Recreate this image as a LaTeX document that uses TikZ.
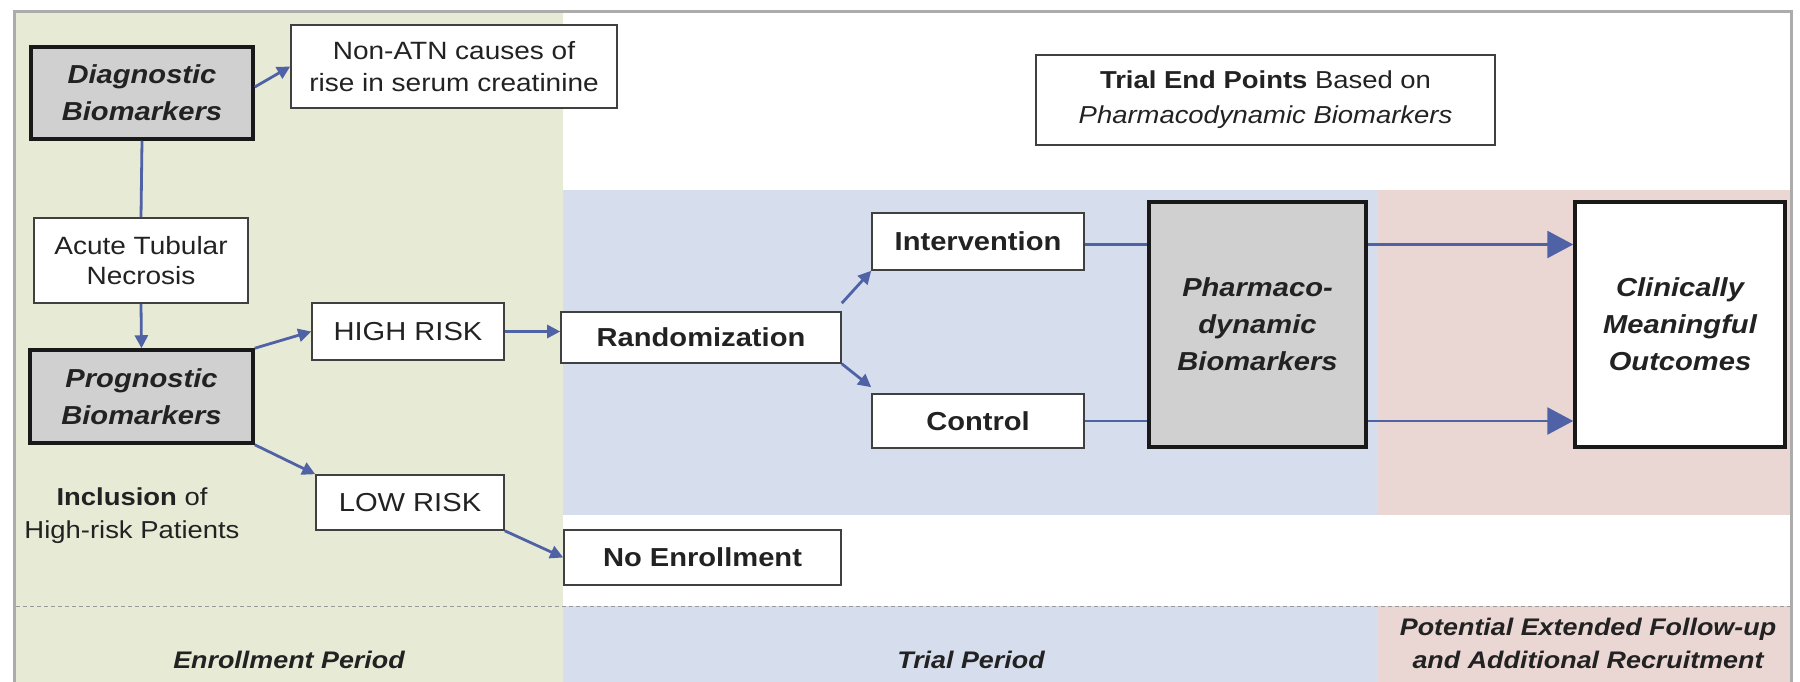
\documentclass[tikz,border=0pt]{standalone}
\usepackage{fontspec}
\setmainfont{Liberation Sans}[FakeStretch=1.12]
\usetikzlibrary{arrows.meta}
\definecolor{engreen}{HTML}{E7EBD6}
\definecolor{trblue}{HTML}{D6DDED}
\definecolor{fupink}{HTML}{EAD7D3}
\definecolor{boxgray}{HTML}{D0D0D0}
\definecolor{arrowblue}{HTML}{5062A6}
\definecolor{txt}{HTML}{222222}
\begin{document}
\begin{tikzpicture}[x=1pt,y=-1pt,
  box/.style={draw=black!75, line width=1.6pt, fill=white, align=center, inner sep=0pt, text=txt,
    font=\fontsize{26}{31}\selectfont},
  bio/.style={box, fill=boxgray, draw=black!90, line width=3.5pt, font=\fontsize{26}{37}\selectfont\bfseries\itshape},
  conn/.style={draw=arrowblue, line width=2.8pt},
  arr/.style={conn, -{Triangle[length=13pt,width=13pt]}},
  bigarr/.style={conn, -{Triangle[length=26pt,width=27pt]}},
  lbl/.style={align=center, inner sep=0pt, text=txt, font=\fontsize{24}{33}\selectfont\bfseries\itshape}
]
\useasboundingbox (0,0) rectangle (1800,682);
% background regions
\fill[white] (0,0) rectangle (1800,682);
\fill[engreen] (16,13) rectangle (563,682);
\fill[trblue] (563,190) rectangle (1378,515);
\fill[trblue] (563,606) rectangle (1378,682);
\fill[fupink] (1378,190) rectangle (1790,515);
\fill[fupink] (1378,606) rectangle (1790,682);
\draw[gray!80, line width=1pt, dash pattern=on 4pt off 3pt] (16,606) -- (1790,606);
\draw[gray!65, line width=3pt] (14,682) -- (14,12) -- (1791,12) -- (1791,682);

% nodes
\node[bio, minimum width=222pt, minimum height=92pt] (diag) at (142,93) {Diagnostic\\Biomarkers};
\node[box, minimum width=326pt, minimum height=83pt, font=\fontsize{25}{32}\selectfont] (nonatn) at (454,66.5) {Non-ATN causes of\\rise in serum creatinine};
\node[box, minimum width=214pt, minimum height=85pt, font=\fontsize{25}{30}\selectfont] (atn) at (141,260.5) {Acute Tubular\\Necrosis};
\node[bio, minimum width=223pt, minimum height=93pt] (prog) at (141.5,396.5) {Prognostic\\Biomarkers};
\node[box, minimum width=192pt, minimum height=57pt] (high) at (408,331.5) {HIGH RISK};
\node[box, minimum width=188pt, minimum height=55pt] (low) at (410,502.5) {LOW RISK};
\node[box, minimum width=280pt, minimum height=51pt, font=\fontsize{26}{31}\selectfont\bfseries] (rand) at (701,337.5) {Randomization};
\node[box, minimum width=277pt, minimum height=55pt, font=\fontsize{26}{31}\selectfont\bfseries] (noenr) at (702.5,557.5) {No Enrollment};
\node[box, minimum width=212pt, minimum height=57pt, font=\fontsize{26}{31}\selectfont\bfseries] (interv) at (978,241.5) {Intervention};
\node[box, minimum width=212pt, minimum height=54pt, font=\fontsize{26}{31}\selectfont\bfseries] (ctrl) at (978,421) {Control};
\node[bio, minimum width=217pt, minimum height=245pt] (pharm) at (1257.5,324.5) {Pharmaco-\\dynamic\\Biomarkers};
\node[bio, fill=white, minimum width=210pt, minimum height=245pt] (clin) at (1680,324.5) {Clinically\\Meaningful\\Outcomes};
\node[box, minimum width=459pt, minimum height=90pt, font=\fontsize{24.5}{35}\selectfont] (endpts) at (1265.5,100)
  {{\bfseries Trial End Points} Based on\\\itshape Pharmacodynamic Biomarkers};

% labels
\node[lbl, font=\fontsize{24.5}{33}\selectfont] (incl) at (132,516) {{\bfseries Inclusion} of\\High-risk Patients};
\node[lbl] (enper) at (289,660) {Enrollment Period};
\node[lbl] (trper) at (971,660) {Trial Period};
\node[lbl] (fuper) at (1588,643) {Potential Extended Follow-up\\and Additional Recruitment};

% connectors
\draw[arr] ([yshift=6pt]diag.east) -- (nonatn.west);
\draw[conn] (diag.south) -- (atn.north);
\draw[arr] (atn.south) -- (prog.north);
\draw[arr] (prog.north east) -- (high.west);
\draw[arr] (prog.south east) -- (low.north west);
\draw[arr] (high.east) -- (high.east -| rand.west);
\draw[arr] (low.south east) -- (noenr.west);
\draw[arr] ([yshift=8pt]rand.north east) -- (interv.south west);
\draw[arr] (rand.south east) -- ([yshift=6pt]ctrl.north west);
\draw[conn] ([yshift=-3pt]interv.east) -- ([yshift=-3pt]interv.east -| pharm.west);
\draw[conn] (ctrl.east) -- (ctrl.east -| pharm.west);
\draw[bigarr] ([yshift=-3pt]interv.east -| pharm.east) -- ([yshift=-3pt]interv.east -| clin.west);
\draw[bigarr] (ctrl.east -| pharm.east) -- (ctrl.east -| clin.west);
\end{tikzpicture}
\end{document}
